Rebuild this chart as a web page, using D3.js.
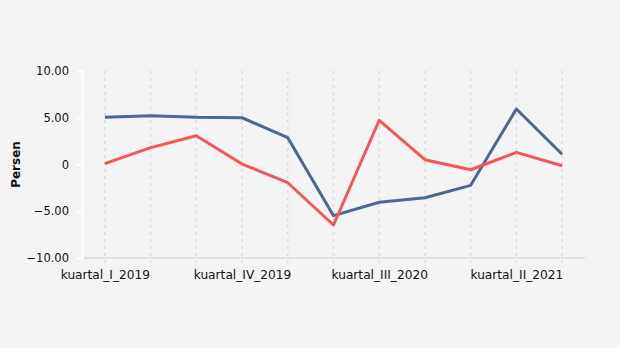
<!DOCTYPE html>
<html><head><meta charset="utf-8">
<script src="https://cdn.jsdelivr.net/npm/d3@7"></script>
<style>body{margin:0;background:#f4f4f4;}svg{display:block;font-family:"DejaVu Sans",Verdana,sans-serif;}</style>
</head><body>
<svg id="c" width="620" height="348"></svg>
<script>
const categories = ["kuartal_I_2019","kuartal_II_2019","kuartal_III_2019","kuartal_IV_2019","kuartal_I_2020","kuartal_II_2020","kuartal_III_2020","kuartal_IV_2020","kuartal_I_2021","kuartal_II_2021","kuartal_III_2021"];
const seriesBlue = [5.05, 5.22, 5.05, 5.0, 2.87, -5.47, -4.04, -3.55, -2.23, 5.94, 1.09];
const seriesRed = [0.09, 1.8, 3.08, 0.05, -1.95, -6.47, 4.73, 0.51, -0.56, 1.3, -0.13];
const yTicks = [-10, -5, 0, 5, 10];
const shownLabels = ["kuartal_I_2019","kuartal_IV_2019","kuartal_III_2020","kuartal_II_2021"];

(function(){
const svg = d3.select("#c");
svg.append("rect").attr("width",620).attr("height",348).attr("fill","#f4f4f4");
const mLeft = 82, mRight = 585, mTop = 71, mBottom = 258;
const x = d3.scalePoint().domain(categories).range([mLeft, mRight]).padding(0.5);
const y = d3.scaleLinear().domain([-10, 10]).range([mBottom, mTop]);

svg.append("g").selectAll("line").data(categories).join("line")
  .attr("x1", d => x(d)).attr("x2", d => x(d))
  .attr("y1", mTop).attr("y2", mBottom + 5)
  .attr("stroke", "#dcdcdc").attr("stroke-width", 1.5).attr("stroke-dasharray", "3,4");

svg.append("line").attr("x1", mLeft).attr("x2", mRight).attr("y1", mBottom).attr("y2", mBottom)
  .attr("stroke", "#e2e2e2").attr("stroke-width", 2);

const yAxis = d3.axisLeft(y).tickValues(yTicks).tickSize(5).tickPadding(8)
  .tickFormat(d => d === 0 ? "0" : d3.format(".2f")(d));
const gy = svg.append("g").attr("transform", `translate(${mLeft},0)`).call(yAxis);
gy.select(".domain").attr("stroke", "#ffffff").attr("stroke-width", 2);
gy.selectAll(".tick line").attr("stroke", "#ffffff").attr("stroke-width", 2);
gy.selectAll("text").attr("fill", "#111").attr("font-size", 11.5).attr("font-family", "DejaVu Sans, Verdana, sans-serif");

const xAxis = d3.axisBottom(x).tickSize(0).tickPadding(12).tickFormat(d => shownLabels.includes(d) ? d : "");
const gx = svg.append("g").attr("transform", `translate(0,${mBottom})`).call(xAxis);
gx.select(".domain").remove();
gx.selectAll("text").attr("fill", "#111").attr("font-size", 12.2).attr("font-family", "DejaVu Sans, Verdana, sans-serif");

svg.append("text").attr("transform", `translate(20,${(mTop+mBottom)/2}) rotate(-90)`)
  .attr("text-anchor", "middle").attr("font-weight", "bold").attr("font-size", 12).attr("fill", "#111").text("Persen");

const line = d3.line().x((d, i) => x(categories[i])).y(d => y(d));
svg.append("path").datum(seriesBlue).attr("d", line).attr("fill", "none")
  .attr("stroke", "#4d6890").attr("stroke-width", 3).attr("stroke-linejoin", "round");
svg.append("path").datum(seriesRed).attr("d", line).attr("fill", "none")
  .attr("stroke", "#f55656").attr("stroke-width", 3).attr("stroke-linejoin", "round");
})();
</script>
</body></html>
